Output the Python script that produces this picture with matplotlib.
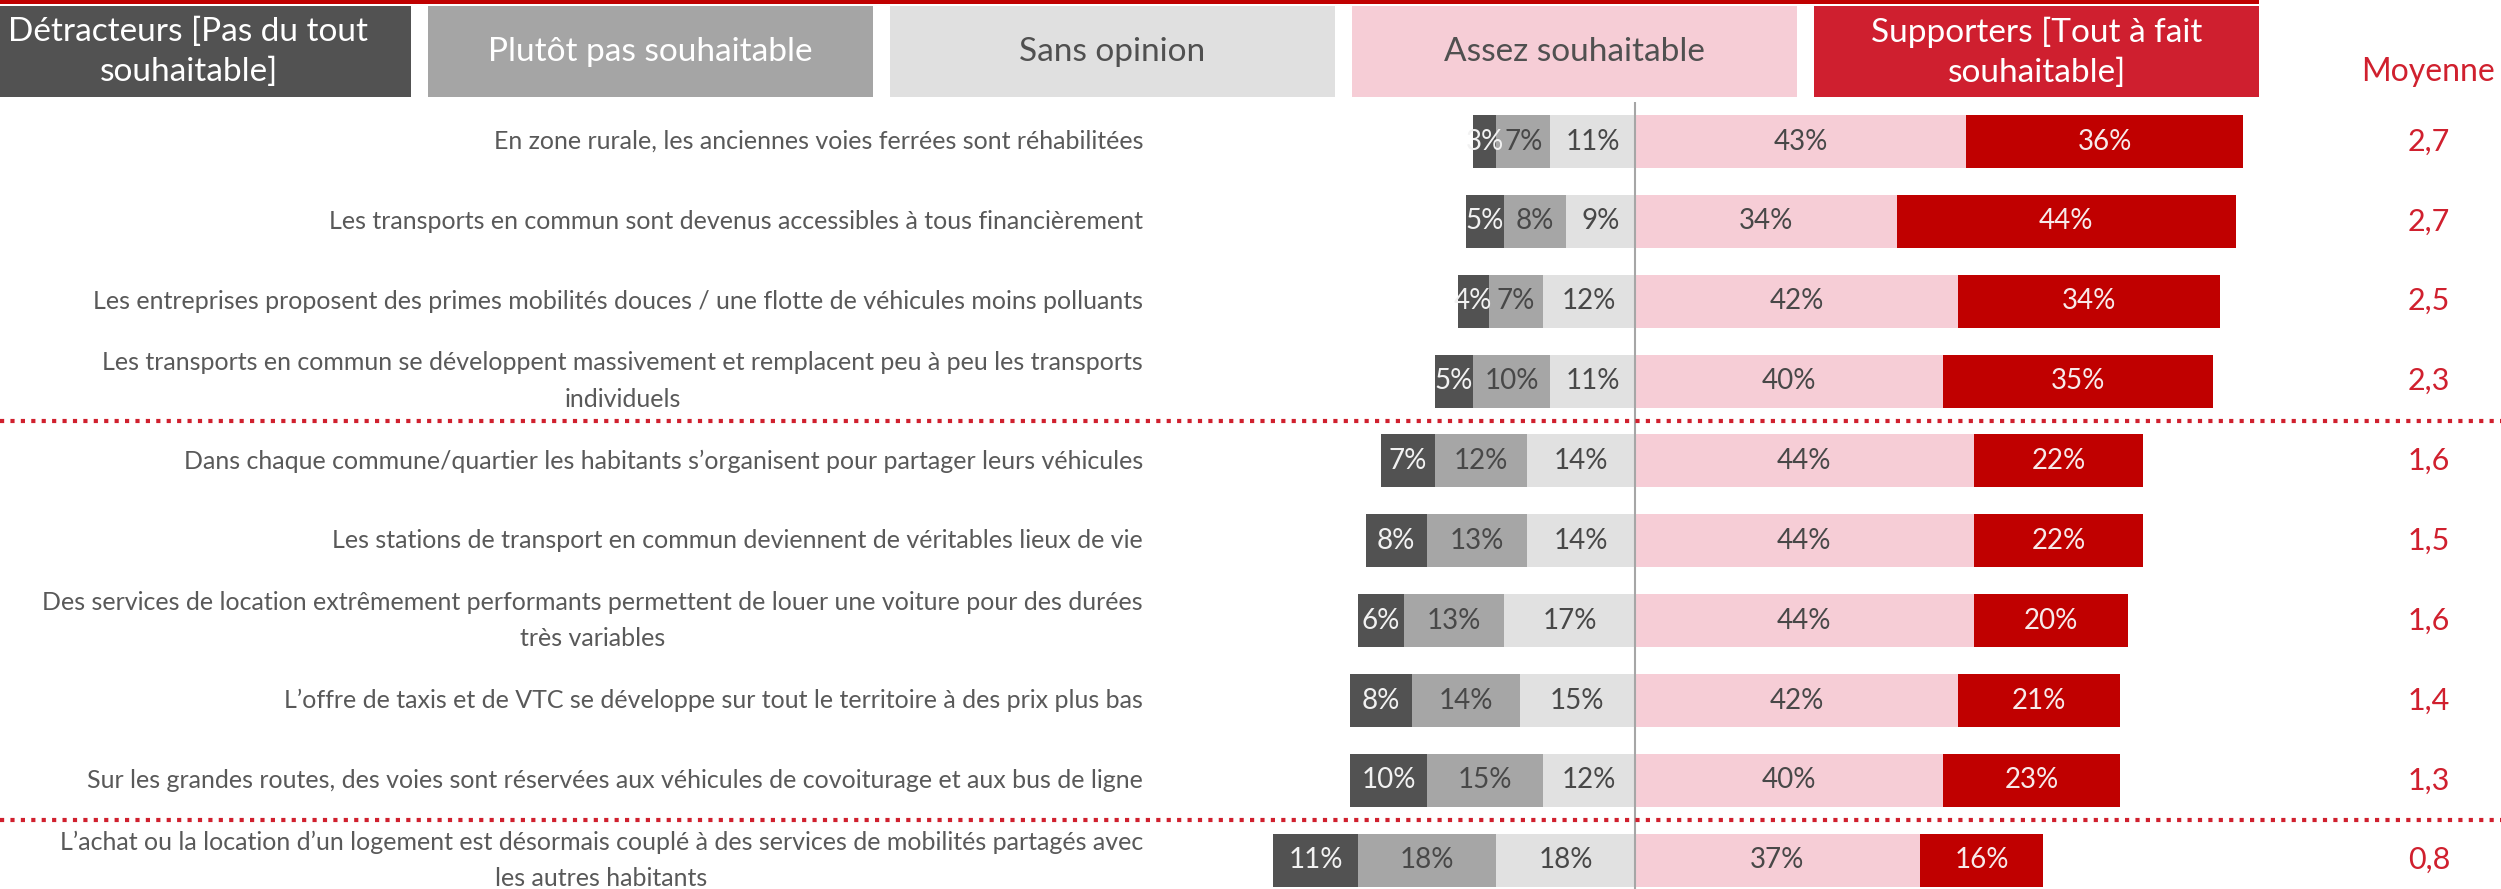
import matplotlib
matplotlib.use("Agg")
import matplotlib.pyplot as plt
from matplotlib.patches import Rectangle

plt.rcParams['font.family'] = ['Lato', 'DejaVu Sans']

# Items, top to bottom
labels = [
    "En zone rurale, les anciennes voies ferrées sont réhabilitées",
    "Les transports en commun sont devenus accessibles à tous financièrement",
    "Les entreprises proposent des primes mobilités douces / une flotte de véhicules moins polluants",
    "Les transports en commun se développent massivement et remplacent peu à peu les transports\nindividuels",
    "Dans chaque commune/quartier les habitants s’organisent pour partager leurs véhicules",
    "Les stations de transport en commun deviennent de véritables lieux de vie",
    "Des services de location extrêmement performants permettent de louer une voiture pour des durées\ntrès variables",
    "L’offre de taxis et de VTC se développe sur tout le territoire à des prix plus bas",
    "Sur les grandes routes, des voies sont réservées aux véhicules de covoiturage et aux bus de ligne",
    "L’achat ou la location d’un logement est désormais couplé à des services de mobilités partagés avec\nles autres habitants",
]
detracteurs = [3, 5, 4, 5, 7, 8, 6, 8, 10, 11]
plutot_pas = [7, 8, 7, 10, 12, 13, 13, 14, 15, 18]
sans_opinion = [11, 9, 12, 11, 14, 14, 17, 15, 12, 18]
assez = [43, 34, 42, 40, 44, 44, 44, 42, 40, 37]
supporters = [36, 44, 34, 35, 22, 22, 20, 21, 23, 16]
moyenne = ["2,7", "2,7", "2,5", "2,3", "1,6", "1,5", "1,6", "1,4", "1,3", "0,8"]

categories = ["Détracteurs [Pas du tout\nsouhaitable]", "Plutôt pas souhaitable",
              "Sans opinion", "Assez souhaitable",
              "Supporters [Tout à fait\nsouhaitable]"]
separators = [3.5, 8.5]

bar_colors = ['#525252', '#a6a6a6', '#e1e1e1', '#f6cdd6', '#c00000']
head_colors = ['#525252', '#a5a5a5', '#e0e0e0', '#f6cdd6', '#cf1f2f']
head_text = ['white', 'white', '#505050', '#505050', 'white']
seg_text = ['#f2f2f2', '#484848', '#484848', '#484848', '#f7eaea']
red = '#d0202e'
grey_txt = '#595959'

W, H = 2501, 889
X0, PX = 1635, 7.7          # zero line position and pixels per percent
Y0, DY = 141.5, 79.86       # first row centre and row pitch

fig = plt.figure(figsize=(W / 100, H / 100), dpi=100)

# pixel canvas for the header, rules and side column
cv = fig.add_axes([0, 0, 1, 1])
cv.set_xlim(0, W)
cv.set_ylim(H, 0)
cv.axis('off')

# bar axes: x in percent, y in row index
ax = fig.add_axes([0, 0, 1, 1])
ax.set_xlim(-X0 / PX, (W - X0) / PX)
ax.set_ylim((H - Y0) / DY, -Y0 / DY)
ax.axis('off')
ax.patch.set_alpha(0)

# top rule
cv.add_patch(Rectangle((0, 0), 2259, 3.5, color='#c00000', lw=0))

# header boxes
for i, (cat, fc, tc) in enumerate(zip(categories, head_colors, head_text)):
    x = -34 + i * 462
    cv.add_patch(Rectangle((x, 6), 445, 91, color=fc, lw=0))
    cv.text(x + 222.5, 52, cat, ha='center', va='center', color=tc,
            fontsize=24, linespacing=1.4)

cv.text(2428, 72, "Moyenne", ha='center', va='center', color=red, fontsize=23)

bar_h = 53 / DY
for i in range(len(labels)):
    d, p, s, a, t = detracteurs[i], plutot_pas[i], sans_opinion[i], assez[i], supporters[i]
    lefts = [-(d + p + s), -(p + s), -s, 0, a]
    widths = [d, p, s, a, t]
    ax.barh([i] * 5, widths, left=lefts, height=bar_h,
            color=bar_colors, lw=0, zorder=2)
    clip = Rectangle((lefts[0], i - bar_h / 2), d + p + s + a + t, bar_h,
                     transform=ax.transData, visible=False)
    ax.add_patch(clip)
    for j, (l, w) in enumerate(zip(lefts, widths)):
        txt = ax.text(l + w / 2, i, f"{w}%", ha='center', va='center',
                      color=seg_text[j], fontsize=20, zorder=4)
        txt.set_clip_path(clip)
    ax.text((1143 - X0) / PX, i, labels[i], ha='right', va='center',
            multialignment='center', color=grey_txt, fontsize=18, linespacing=1.7)
    ax.text((2429 - X0) / PX, i, moyenne[i], ha='center', va='center',
            color=red, fontsize=22)

# zero line
ax.vlines(0, (102 - Y0) / DY, (H - Y0) / DY, color='#a6a6a6', lw=1.5, zorder=3)

# dotted group separators
for y in separators:
    ax.axhline(y, color=red, lw=3, ls=(0, (1, 1.5)), zorder=3)

fig.savefig("out.png", dpi=100)
